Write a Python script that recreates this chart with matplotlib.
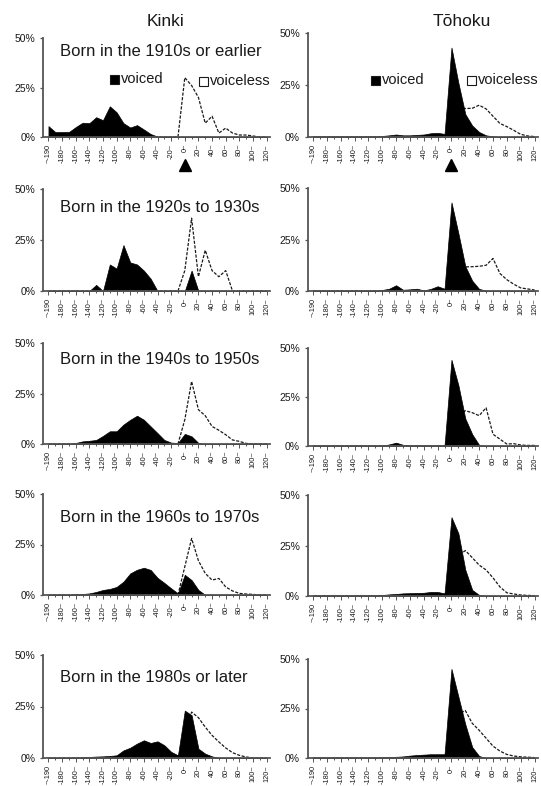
import matplotlib
matplotlib.use('Agg')
import matplotlib.pyplot as plt
from matplotlib.patches import Rectangle

# bin starts in ms (first bin is "up to -190")
BINS = [-200, -190, -180, -170, -160, -150, -140, -130, -120, -110, -100,
        -90, -80, -70, -60, -50, -40, -30, -20, -10, 0, 10, 20, 30, 40, 50,
        60, 70, 80, 90, 100, 110, 120]
TICK_POS = BINS[::2]
TICK_LABELS = ['~-190', '-180~', '-160~', '-140~', '-120~', '-100~', '-80~', '-60~',
               '-40~', '-20~', '0~', '20~', '40~', '60~', '80~', '100~', '120~']

ROW_TITLES = ['Born in the 1910s or earlier', 'Born in the 1920s to 1930s',
              'Born in the 1940s to 1950s', 'Born in the 1960s to 1970s',
              'Born in the 1980s or later']
COL_TITLES = ['Kinki', 'Tōhoku']
LEGEND_LABELS = ['voiced', 'voiceless']

# Kinki, % per bin
kinki_1910_voiced = [5.5, 2.5, 2.5, 2.5, 5, 7.2, 7, 10, 8.5, 15.5, 12.5, 7, 4.8, 6, 3.8, 1.5, 0.2,
                     0, 0, 0, 0, 0, 0, 0, 0, 0, 0, 0, 0, 0, 0, 0, 0]
kinki_1910_voiceless = [0, 0, 0, 0, 0, 0, 0, 0, 0, 0, 0, 0, 0, 0, 0, 0, 0, 0, 0, 0,
                        30, 26, 20, 7, 10.5, 2, 4.5, 2, 1, 1, 0.5, 0, 0]
kinki_1920_voiced = [0, 0, 0, 0, 0, 0, 0, 3, 0, 13, 11, 22.5, 14, 13, 10, 6, 0,
                     0, 0, 0, 0, 10, 0, 0, 0, 0, 0, 0, 0, 0, 0, 0, 0]
kinki_1920_voiceless = [0, 0, 0, 0, 0, 0, 0, 0, 0, 0, 0, 0, 0, 0, 0, 0, 0, 0, 0, 0,
                        10, 35.7, 7, 20, 10, 7, 10, 0, 0, 0, 0, 0, 0]
kinki_1940_voiced = [0, 0, 0, 0, 0.5, 1.3, 1.6, 2, 4, 6.3, 6.3, 9.6, 12, 14, 12, 8.7, 5.4,
                     2, 0.7, 0.5, 5, 3.8, 0.5, 0, 0, 0, 0, 0, 0, 0, 0, 0, 0]
kinki_1940_voiceless = [0, 0, 0, 0, 0, 0, 0, 0, 0, 0, 0, 0, 0, 0, 0, 0, 0, 0, 0, 0,
                        12, 31, 17, 14, 8.7, 6.8, 4.6, 2, 1.3, 0.3, 0, 0, 0]
kinki_1960_voiced = [0, 0, 0, 0, 0.3, 0.5, 0.8, 1.5, 2.5, 3, 4, 6.6, 10.7, 12.5, 13.5, 12.4, 8.5,
                     6, 3.3, 0.8, 10, 7.4, 2.5, 0, 0, 0, 0, 0, 0, 0, 0, 0, 0]
kinki_1960_voiceless = [0, 0, 0, 0, 0, 0, 0, 0, 0, 0, 0, 0, 0, 0, 0, 0, 0, 0, 0, 0,
                        14, 28, 17, 10.7, 7.4, 8.2, 4, 2, 0.8, 0.5, 0.3, 0, 0]
kinki_1980_voiced = [0, 0, 0, 0, 0, 0.3, 0.5, 0.7, 0.8, 1, 1.3, 3.7, 5, 7, 8.6, 7.3, 8.1,
                     6.2, 3, 1.3, 23, 20.8, 4.5, 2.1, 0.8, 0, 0, 0, 0, 0, 0, 0, 0]
kinki_1980_voiceless = [0, 0, 0, 0, 0, 0, 0, 0, 0, 0, 0, 0, 0, 0, 0, 0, 0, 0, 0, 0,
                        12, 22.3, 19.6, 15, 11, 7.8, 4.9, 2.6, 1.3, 0.5, 0, 0, 0]

# Tohoku, % per bin
tohoku_1910_voiced = [0.3, 0.3, 0.3, 0.3, 0.3, 0.3, 0.3, 0.3, 0.3, 0.3, 0.5, 0.8, 1.2, 0.8, 0.8, 1, 1.2,
                      1.8, 2, 1.5, 43, 26, 11, 5.5, 2.4, 0.8, 0.3, 0, 0, 0, 0, 0, 0]
tohoku_1910_voiceless = [0, 0, 0, 0, 0, 0, 0, 0, 0, 0, 0, 0, 0, 0, 0, 0, 0, 0, 0, 0,
                         6, 13, 13.7, 13.8, 15.3, 13.5, 10, 6.5, 5, 3.2, 1.3, 0.5, 0.2]
tohoku_1920_voiced = [0.2, 0.2, 0.2, 0.2, 0.2, 0.2, 0.2, 0.2, 0.2, 0.2, 0.5, 1.1, 2.8, 0.6, 0.8, 1.1, 0.3,
                      1, 2.3, 1.1, 43, 28, 12, 5, 1, 0.2, 0, 0, 0, 0, 0, 0, 0]
tohoku_1920_voiceless = [0, 0, 0, 0, 0, 0, 0, 0, 0, 0, 0, 0, 0, 0, 0, 0, 0, 0, 0, 0,
                         6, 11.5, 11.7, 11.8, 12, 12.5, 15.8, 8.5, 5.5, 3.3, 1.5, 1, 0.5]
tohoku_1940_voiced = [0.2, 0.2, 0.2, 0.2, 0.2, 0.2, 0.2, 0.2, 0.2, 0.2, 0.2, 0.8, 1.7, 0.6, 0.3, 0.3, 0.3,
                      0.3, 0.3, 0.2, 44, 31, 14, 6, 0.5, 0, 0, 0, 0, 0, 0, 0, 0]
tohoku_1940_voiceless = [0, 0, 0, 0, 0, 0, 0, 0, 0, 0, 0, 0, 0, 0, 0, 0, 0, 0, 0, 0,
                         8, 16, 18, 17, 15.5, 19.5, 6, 3.5, 1, 1.2, 0.5, 0.3, 0.3]
tohoku_1960_voiced = [0.3, 0.3, 0.3, 0.3, 0.3, 0.3, 0.3, 0.3, 0.4, 0.5, 0.5, 0.8, 1, 1.3, 1.4, 1.5, 1.6,
                      2, 2, 1.3, 39, 31, 13, 3, 0.5, 0, 0, 0, 0, 0, 0, 0, 0]
tohoku_1960_voiceless = [0, 0, 0, 0, 0, 0, 0, 0, 0, 0, 0, 0, 0, 0, 0, 0, 0, 0, 0, 0,
                         8, 20, 22.5, 19, 15.3, 12.9, 9, 4.5, 1.6, 1, 0.5, 0.3, 0.2]
tohoku_1980_voiced = [0.2, 0.2, 0.2, 0.2, 0.2, 0.2, 0.2, 0.2, 0.2, 0.2, 0.3, 0.5, 0.6, 0.8, 1.2, 1.5, 1.7,
                      1.9, 1.9, 1.9, 45, 31, 17, 5.5, 1, 0, 0, 0, 0, 0, 0, 0, 0]
tohoku_1980_voiceless = [0, 0, 0, 0, 0, 0, 0, 0, 0, 0, 0, 0, 0, 0, 0, 0, 0, 0, 0, 0,
                         10, 22, 24, 17.5, 14, 10, 6, 3.5, 1.8, 1, 0.6, 0.4, 0.2]

KINKI = [(kinki_1910_voiced, kinki_1910_voiceless), (kinki_1920_voiced, kinki_1920_voiceless),
         (kinki_1940_voiced, kinki_1940_voiceless), (kinki_1960_voiced, kinki_1960_voiceless),
         (kinki_1980_voiced, kinki_1980_voiceless)]
TOHOKU = [(tohoku_1910_voiced, tohoku_1910_voiceless), (tohoku_1920_voiced, tohoku_1920_voiceless),
          (tohoku_1940_voiced, tohoku_1940_voiceless), (tohoku_1960_voiced, tohoku_1960_voiceless),
          (tohoku_1980_voiced, tohoku_1980_voiceless)]

W, H = 541, 786
# pixel boxes (top of 50%, 0% line) for each row, left / right column
LEFT_ROWS = [(38, 137), (189, 291), (343, 444), (494, 595), (655, 758)]
RIGHT_ROWS = [(33, 137), (188, 291), (348, 446), (495, 596), (659, 758)]
LEFT_X = (43, 270)
RIGHT_X = (307.5, 538)
TITLE_Y = [52, 207, 360, 517, 677]

plt.rcParams['font.family'] = ['Liberation Sans', 'DejaVu Sans']
INK = '#1a1a1a'
AXIS = '#555555'


def make_axes(fig, xs, ys):
    x0, x1 = xs
    top, bottom = ys
    return fig.add_axes([x0 / W, 1 - bottom / H, (x1 - x0) / W, (bottom - top) / H])


def draw_panel(ax, voiced, voiceless):
    ax.fill_between(BINS, 0, voiceless, facecolor='white', lw=0, zorder=1)
    ax.plot(BINS, voiceless, color=INK, lw=0.9, ls=(0, (2.5, 1.2)), zorder=2)
    ax.fill_between(BINS, 0, voiced, facecolor='black', edgecolor='black', lw=0.5, zorder=3)
    ax.set_xlim(-208, 125)
    ax.set_ylim(0, 50)
    for side in ('top', 'right'):
        ax.spines[side].set_visible(False)
    for side in ('left', 'bottom'):
        ax.spines[side].set_color(AXIS)
        ax.spines[side].set_linewidth(1.3)
        ax.spines[side].set_zorder(4)
    ax.set_yticks([0, 25, 50])
    ax.set_yticklabels(['0%', '25%', '50%'], fontsize=7.5, color=INK)
    ax.tick_params(axis='y', length=2.5, width=0.9, color=AXIS, pad=3)
    ax.set_xticks(TICK_POS)
    ax.set_xticks(BINS, minor=True)
    ax.set_xticklabels(TICK_LABELS, rotation=90, fontsize=5.3, color=INK)
    ax.tick_params(axis='x', which='major', length=3, width=0.7, color=AXIS, pad=2)
    ax.tick_params(axis='x', which='minor', length=1.5, width=0.7, color=AXIS)
    ax.patch.set_alpha(0)


def legend_item(fig, x, y, label, filled):
    # square swatch drawn in pixels, then the label to its right
    fig.patches.append(Rectangle((x / W, 1 - (y + 4.5) / H), 8.5 / W, 9 / H,
                                 transform=fig.transFigure, facecolor='black' if filled else 'white',
                                 edgecolor=INK, lw=0.8))
    fig.text((x + 11) / W, 1 - y / H, label, fontsize=10.5, color=INK, ha='left', va='center')


fig = plt.figure(figsize=(W / 100, H / 100), dpi=100)

for i in range(5):
    ax_l = make_axes(fig, LEFT_X, LEFT_ROWS[i])
    draw_panel(ax_l, *KINKI[i])
    ax_r = make_axes(fig, RIGHT_X, RIGHT_ROWS[i])
    draw_panel(ax_r, *TOHOKU[i])
    fig.text(60 / W, 1 - TITLE_Y[i] / H, ROW_TITLES[i], fontsize=12, color=INK,
             ha='left', va='center')
    if i == 0:
        # onset marker under the 0 bin
        for ax, (top, bottom) in ((ax_l, LEFT_ROWS[0]), (ax_r, RIGHT_ROWS[0])):
            ax.plot([0], [(bottom - 165) / (bottom - top)], marker='^', color='black',
                    markersize=9, transform=ax.get_xaxis_transform(), clip_on=False)

fig.text(165 / W, 1 - 22 / H, COL_TITLES[0], fontsize=12.5, color=INK, ha='center', va='center')
fig.text(462 / W, 1 - 22 / H, COL_TITLES[1], fontsize=12.5, color=INK, ha='center', va='center')

legend_item(fig, 110, 79, LEGEND_LABELS[0], True)
legend_item(fig, 199, 81, LEGEND_LABELS[1], False)
legend_item(fig, 371, 80, LEGEND_LABELS[0], True)
legend_item(fig, 467, 80, LEGEND_LABELS[1], False)

fig.savefig('out.png', dpi=100)
